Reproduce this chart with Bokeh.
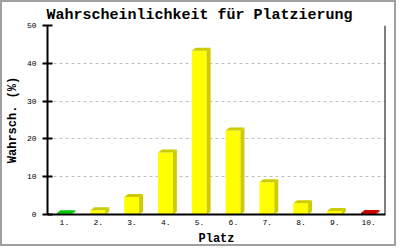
from bokeh.plotting import figure
from bokeh.models import Range1d, FixedTicker, Span
from bokeh.embed import file_html
from bokeh.resources import INLINE

# ---- data ----
platz = ["1.", "2.", "3.", "4.", "5.", "6.", "7.", "8.", "9.", "10."]
wahrsch = [0.3, 1.1, 4.6, 16.4, 43.3, 22.2, 8.5, 3.0, 0.9, 0.4]
y_ticks = [0, 10, 20, 30, 40, 50]
title_text = "Wahrscheinlichkeit für Platzierung"
x_label = "Platz"
y_label = "Wahrsch. (%)"

front_colors = ["#00e000"] + ["#ffff00"] * 8 + ["#ff0000"]
shade_colors = ["#00c800"] + ["#cccc00"] * 8 + ["#cc0000"]

FONT = "Liberation Mono"

p = figure(width=396, height=246, output_backend="svg", toolbar_location=None,
           x_range=Range1d(0, len(platz)), y_range=Range1d(0, 50),
           min_border_left=41, min_border_right=13, min_border_top=23,
           min_border_bottom=34, title=title_text)
p.styles = {"border": "2px solid #a0a0a0"}

p.title.text_font = FONT
p.title.text_font_size = "15px"
p.title.text_font_style = "bold"
p.title.align = "left"
p.title.offset = -1
p.title.standoff = 4
p.title.text_color = "black"

p.outline_line_color = None
p.background_fill_color = "white"
p.border_fill_color = "white"

# geometry in data units
n = len(platz)
centers = [i + 0.5 for i in range(n)]
half_l, half_r = 0.23, 0.21
dx, dy = 0.117, 0.8

xl = [c - half_l for c in centers]
xr = [c + half_r for c in centers]

p.quad(left=xl, right=xr, bottom=[0] * n, top=wahrsch,
       fill_color=front_colors, line_color=None)

side_xs = [[r, r + dx, r + dx, r] for r in xr]
side_ys = [[0, dy, v + dy, v] for v in wahrsch]
top_xs = [[l, l + dx, r + dx, r] for l, r in zip(xl, xr)]
top_ys = [[v, v + dy, v + dy, v] for v in wahrsch]
p.patches(side_xs, side_ys, fill_color=shade_colors, line_color=None)
p.patches(top_xs, top_ys, fill_color=shade_colors, line_color=None)

# axes
p.xaxis.ticker = FixedTicker(ticks=centers)
p.xaxis.major_label_overrides = {c: lab for c, lab in zip(centers, platz)}
p.xaxis.major_tick_line_color = None
p.xaxis.major_tick_in = 0
p.xaxis.major_tick_out = 0
p.xaxis.minor_tick_line_color = None
p.xaxis.axis_line_color = "black"
p.xaxis.axis_line_width = 2
p.xaxis.major_label_standoff = 5
p.xaxis.axis_label = x_label

p.yaxis.ticker = FixedTicker(ticks=y_ticks)
p.yaxis.major_tick_in = 5
p.yaxis.major_tick_out = 5
p.yaxis.minor_tick_line_color = None
p.yaxis.axis_line_color = "black"
p.yaxis.axis_line_width = 2
p.yaxis.major_tick_line_width = 2
p.yaxis.axis_label = y_label
p.yaxis.major_label_standoff = 6

for ax in (p.xaxis, p.yaxis):
    ax.major_label_text_font = FONT
    ax.major_label_text_font_size = "8px"
    ax.major_label_text_color = "black"
    ax.axis_label_text_font = FONT
    ax.axis_label_text_font_size = "12px"
    ax.axis_label_text_font_style = "bold"
    ax.axis_label_text_color = "black"
p.xaxis.axis_label_standoff = 4
p.yaxis.axis_label_standoff = 4

p.xgrid.grid_line_color = None
p.ygrid.grid_line_color = "#c0c0c0"
p.ygrid.grid_line_dash = "3 3"
p.ygrid.grid_line_width = 1

p.add_layout(Span(location=n, dimension="height", line_color="black", line_width=2))

open("out.html", "w").write(file_html(p, INLINE))
